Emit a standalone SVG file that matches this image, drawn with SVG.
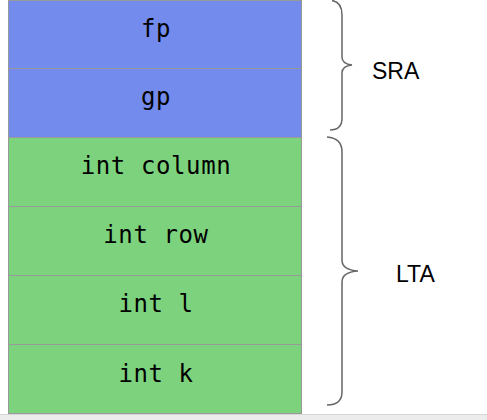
<svg xmlns="http://www.w3.org/2000/svg" width="487" height="420" viewBox="0 0 487 420">
<style>
.blue{fill:#748bee;stroke:#999;stroke-width:1}
.green{fill:#7dd37d;stroke:#999;stroke-width:1}
.cell{font-family:"DejaVu Sans Mono",monospace;font-size:24px;letter-spacing:0.6px;fill:#000;text-anchor:middle}
.lbl{font-family:"Liberation Sans",Arial,sans-serif;font-size:23px;fill:#000}
.brace{fill:none;stroke:#666;stroke-width:1.5}
</style>
<rect width="487" height="420" fill="#fff"/>
<g id="fp"><rect class="blue" x="8.5" y="0.5" width="293" height="68"/><text class="cell" x="156" y="37">fp</text></g>
<g id="gp"><rect class="blue" x="8.5" y="68.5" width="293" height="69"/><text class="cell" x="156" y="105">gp</text></g>
<g id="int_column"><rect class="green" x="8.5" y="137.5" width="293" height="69"/><text class="cell" x="156" y="174">int column</text></g>
<g id="int_row"><rect class="green" x="8.5" y="206.5" width="293" height="69"/><text class="cell" x="156" y="243">int row</text></g>
<g id="int_l"><rect class="green" x="8.5" y="275.5" width="293" height="69"/><text class="cell" x="156" y="312">int l</text></g>
<g id="int_k"><rect class="green" x="8.5" y="344.5" width="293" height="69"/><text class="cell" x="156" y="382">int k</text></g>
<g id="connectors">
<path class="brace" d="M332,0.5 Q342,2 342,15 L342,57 Q342,64 352,65 Q342,66 342,73 L342,118 Q342,130 330,130"/>
<path class="brace" d="M327,137 Q342,138 342,152 L342,260 Q342,270 358,271 Q342,272 342,282 L342,392 Q342,405 327,405"/>
</g>
<g id="SRA"><text class="lbl" x="372" y="79">SRA</text></g>
<g id="LTA"><text class="lbl" x="396" y="282">LTA</text></g>
<rect x="0" y="414" width="487" height="6" fill="#ececec"/>
<line x1="0" y1="414.5" x2="487" y2="414.5" stroke="#d6d6d6"/>
</svg>
